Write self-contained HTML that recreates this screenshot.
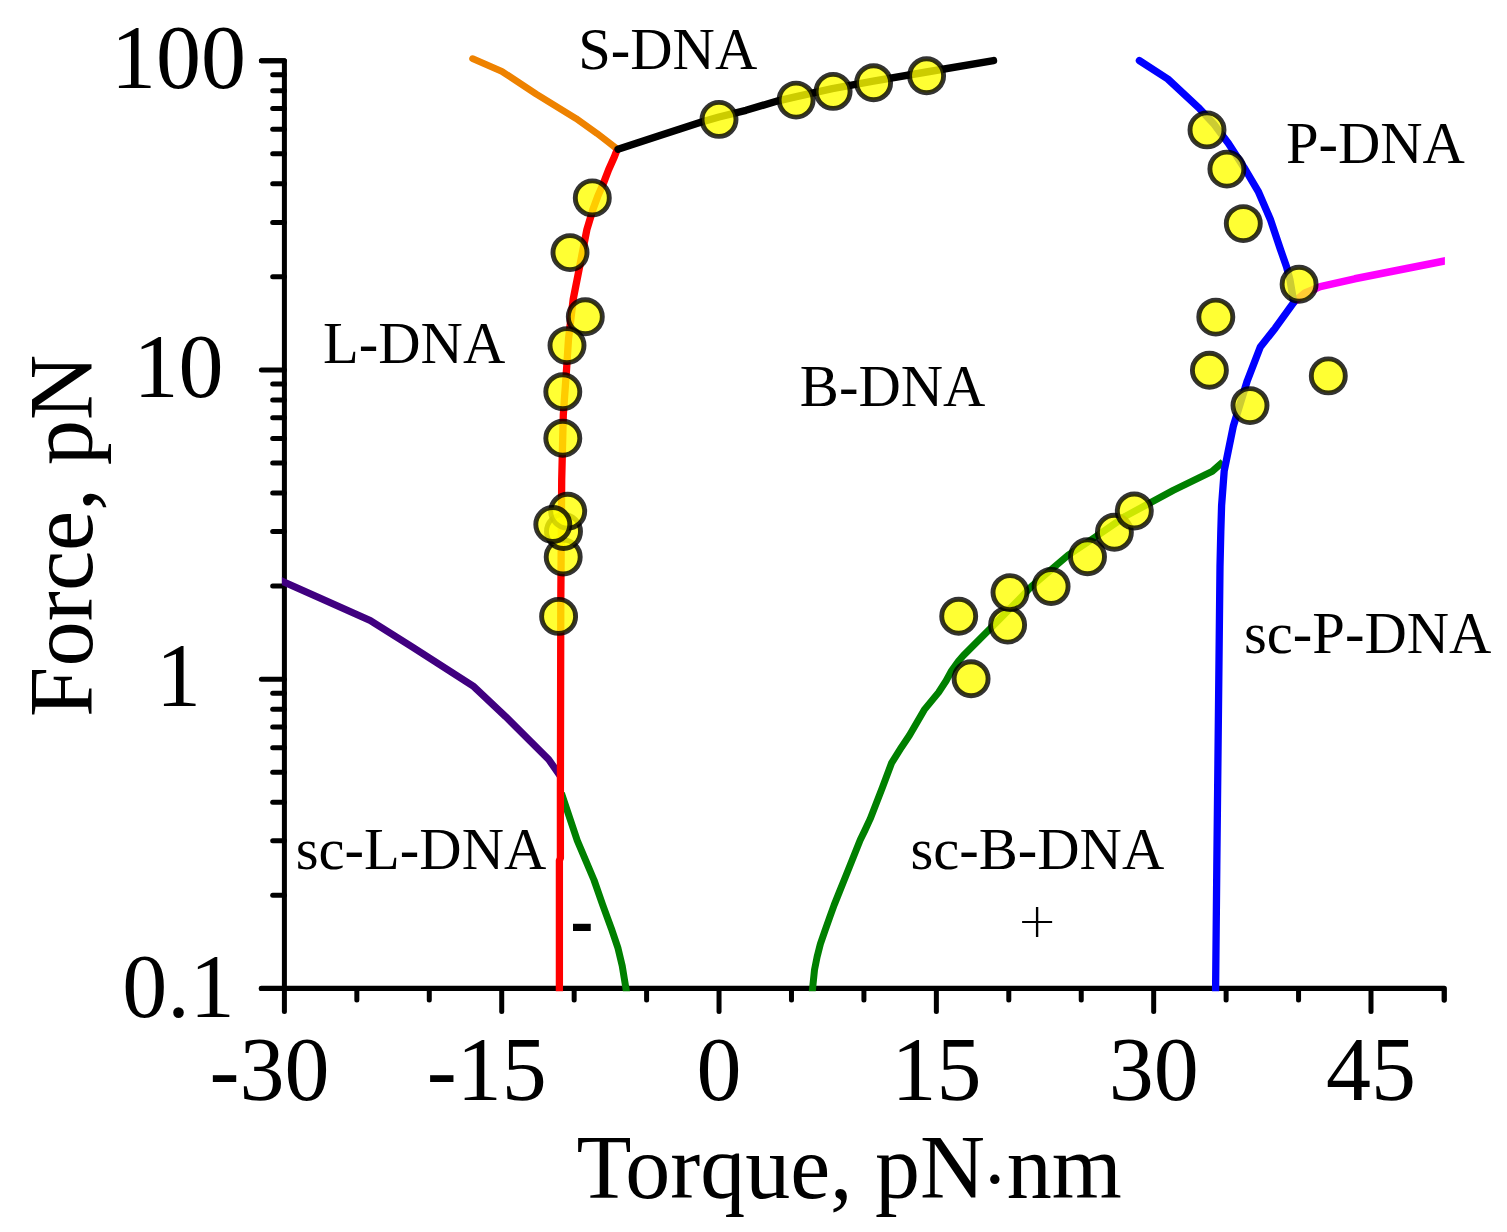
<!DOCTYPE html>
<html lang="en"><head><meta charset="utf-8"><title>DNA phase diagram</title>
<style>html,body{margin:0;padding:0;background:#fff;}body{width:1507px;height:1232px;overflow:hidden;}svg{display:block;}text{font-family:'Liberation Serif', serif;fill:#000;}</style></head><body>
<svg width="1507" height="1232" viewBox="0 0 1507 1232">
<rect width="1507" height="1232" fill="#fff"/>
<g stroke="#000" stroke-width="5.3" fill="none" stroke-linecap="butt">
<path d="M261.4 60.7 L284.4 60.7 L284.4 988.4" stroke-width="5" stroke-linejoin="round" stroke-linecap="round"/>
<path d="M261.4 988.4 L1444.24 988.4 L1444.24 1000.1" stroke-linejoin="round" stroke-linecap="round"/>
</g>
<g stroke="#000" stroke-width="5" fill="none" stroke-linecap="round">
<line x1="284.4" y1="988.40" x2="261.4" y2="988.40"/>
<line x1="284.4" y1="895.31" x2="272.7" y2="895.31"/>
<line x1="284.4" y1="840.86" x2="272.7" y2="840.86"/>
<line x1="284.4" y1="802.22" x2="272.7" y2="802.22"/>
<line x1="284.4" y1="772.26" x2="272.7" y2="772.26"/>
<line x1="284.4" y1="747.77" x2="272.7" y2="747.77"/>
<line x1="284.4" y1="727.07" x2="272.7" y2="727.07"/>
<line x1="284.4" y1="709.13" x2="272.7" y2="709.13"/>
<line x1="284.4" y1="693.32" x2="272.7" y2="693.32"/>
<line x1="284.4" y1="679.17" x2="261.4" y2="679.17"/>
<line x1="284.4" y1="586.08" x2="272.7" y2="586.08"/>
<line x1="284.4" y1="531.62" x2="272.7" y2="531.62"/>
<line x1="284.4" y1="492.99" x2="272.7" y2="492.99"/>
<line x1="284.4" y1="463.02" x2="272.7" y2="463.02"/>
<line x1="284.4" y1="438.54" x2="272.7" y2="438.54"/>
<line x1="284.4" y1="417.83" x2="272.7" y2="417.83"/>
<line x1="284.4" y1="399.90" x2="272.7" y2="399.90"/>
<line x1="284.4" y1="384.08" x2="272.7" y2="384.08"/>
<line x1="284.4" y1="369.93" x2="261.4" y2="369.93"/>
<line x1="284.4" y1="276.84" x2="272.7" y2="276.84"/>
<line x1="284.4" y1="222.39" x2="272.7" y2="222.39"/>
<line x1="284.4" y1="183.76" x2="272.7" y2="183.76"/>
<line x1="284.4" y1="153.79" x2="272.7" y2="153.79"/>
<line x1="284.4" y1="129.30" x2="272.7" y2="129.30"/>
<line x1="284.4" y1="108.60" x2="272.7" y2="108.60"/>
<line x1="284.4" y1="90.67" x2="272.7" y2="90.67"/>
<line x1="284.4" y1="74.85" x2="272.7" y2="74.85"/>
<line x1="284.4" y1="60.70" x2="261.4" y2="60.70"/>
<line x1="284.40" y1="988.4" x2="284.40" y2="1011.4"/>
<line x1="356.84" y1="988.4" x2="356.84" y2="1000.1"/>
<line x1="429.28" y1="988.4" x2="429.28" y2="1000.1"/>
<line x1="501.72" y1="988.4" x2="501.72" y2="1011.4"/>
<line x1="574.16" y1="988.4" x2="574.16" y2="1000.1"/>
<line x1="646.60" y1="988.4" x2="646.60" y2="1000.1"/>
<line x1="719.04" y1="988.4" x2="719.04" y2="1011.4"/>
<line x1="791.48" y1="988.4" x2="791.48" y2="1000.1"/>
<line x1="863.92" y1="988.4" x2="863.92" y2="1000.1"/>
<line x1="936.36" y1="988.4" x2="936.36" y2="1011.4"/>
<line x1="1008.80" y1="988.4" x2="1008.80" y2="1000.1"/>
<line x1="1081.24" y1="988.4" x2="1081.24" y2="1000.1"/>
<line x1="1153.68" y1="988.4" x2="1153.68" y2="1011.4"/>
<line x1="1226.12" y1="988.4" x2="1226.12" y2="1000.1"/>
<line x1="1298.56" y1="988.4" x2="1298.56" y2="1000.1"/>
<line x1="1371.00" y1="988.4" x2="1371.00" y2="1011.4"/>
</g>
<clipPath id="pc"><rect x="281.9" y="0" width="1163" height="991.2"/></clipPath>
<g fill="none" stroke-linejoin="round" stroke-linecap="butt" clip-path="url(#pc)">
<path d="M279.4 580.0 L284.4 582.3 L319.8 598.1 L370.2 620.5 L412.7 647.3 L473.8 686.6 L505.6 716.6 L548.7 759.5 L560.0 775.6" stroke="#400080" stroke-width="7.1" stroke-linecap="butt"/>
<path d="M472.6 58.7 L501.8 71.3 L536.3 94.2 L576.1 118.6 L597.0 133.4 L608.0 141.9 L616.8 148.7" stroke="#EE8200" stroke-width="6.8" stroke-linecap="round"/>
<path d="M561.4 793.2 L577.3 840.7 L594.0 880.0 L602.5 904.4 L611.4 928.7 L618.0 948.2 L622.2 965.7 L625.9 988.3 L627.1 996.0" stroke="#008000" stroke-width="7" stroke-linecap="butt"/>
<path d="M811.8 996.0 L812.6 988.3 L814.5 969.9 L817.1 956.9 L820.4 943.9 L824.9 930.9 L829.5 917.9 L834.2 904.9 L839.4 891.9 L844.6 879.0 L849.8 866.0 L855.0 853.0 L860.2 840.0 L865.0 830.1 L870.2 818.9 L882.6 787.1 L891.5 763.2 L901.5 747.2 L909.5 735.3 L924.2 709.9 L938.6 692.4 L946.0 681.0 L951.2 671.3 L958.2 661.6 L963.4 655.5 L991.1 627.8 L1020.7 597.7 L1031.5 586.3 L1068.2 555.2 L1094.4 537.6 L1125.8 516.0 L1173.2 490.4 L1212.2 471.4 L1223.0 461.8" stroke="#008000" stroke-width="7" stroke-linecap="butt"/>
<path d="M1293.0 302.8 L1305.0 293.0 L1320.3 286.6 L1354.8 278.8 L1444.5 261.0 L1450.0 259.9" stroke="#FF00FF" stroke-width="7.5" stroke-linecap="butt"/>
<path d="M1139.4 60.6 L1167.8 79.0 L1199.6 108.7 L1213.4 123.4 L1228.5 143.5 L1244.0 167.4 L1258.2 191.3 L1270.3 219.2 L1280.3 249.0 L1286.6 267.0 L1290.0 280.0 L1293.8 302.4 L1275.2 328.2 L1260.3 347.0 L1247.3 380.7 L1233.4 425.8 L1228.0 452.3 L1224.2 470.9 L1221.6 505.4 L1220.8 532.0 L1220.0 566.5 L1216.8 867.0 L1215.6 988.3 L1215.6 996.0" stroke="#0000FF" stroke-width="7.3" stroke-linecap="round"/>
<path d="M617.0 150.0 L614.3 157.0 L608.6 169.8 L603.5 183.1 L597.7 196.4 L592.9 209.6 L586.9 229.5 L584.3 242.8 L579.9 265.4 L573.2 299.3 L568.5 339.1 L566.6 368.5 L563.3 415.0 L561.7 480.0 L560.8 600.0 L560.4 790.0 L560.4 858.0 L559.4 860.5 L559.4 988.3 L559.4 996.0" stroke="#FF0000" stroke-width="7.3" stroke-linecap="butt"/>
<path d="M618.0 149.2 L658.4 136.0 L700.7 122.2 L719.0 117.0 L746.0 110.3 L778.1 100.8 L796.4 96.6 L832.3 88.7 L873.3 81.2 L926.5 72.0 L993.5 60.6" stroke="#000000" stroke-width="7.4" stroke-linecap="round"/>
</g>
<g fill="#FFFF00" fill-opacity="0.8" stroke="#000" stroke-opacity="0.8" stroke-width="4.9">
<circle cx="719.0" cy="119.4" r="17"/>
<circle cx="796.1" cy="100.1" r="17"/>
<circle cx="833.1" cy="91.4" r="17"/>
<circle cx="873.6" cy="82.8" r="17"/>
<circle cx="926.6" cy="75.7" r="17"/>
<circle cx="592.3" cy="197.9" r="17"/>
<circle cx="570.0" cy="252.6" r="17"/>
<circle cx="585.3" cy="316.7" r="17"/>
<circle cx="567.0" cy="345.6" r="17"/>
<circle cx="562.8" cy="391.8" r="17"/>
<circle cx="562.8" cy="438.3" r="17"/>
<circle cx="558.6" cy="616.4" r="17"/>
<circle cx="563.2" cy="557.0" r="17"/>
<circle cx="563.5" cy="531.5" r="17"/>
<circle cx="567.7" cy="511.3" r="17"/>
<circle cx="552.8" cy="524.5" r="17"/>
<circle cx="1207.0" cy="129.9" r="17"/>
<circle cx="1226.9" cy="169.1" r="17"/>
<circle cx="1243.3" cy="223.6" r="17"/>
<circle cx="1299.1" cy="284.2" r="17"/>
<circle cx="1215.8" cy="317.1" r="17"/>
<circle cx="1209.4" cy="370.3" r="17"/>
<circle cx="1328.3" cy="375.9" r="17"/>
<circle cx="1250.0" cy="405.6" r="17"/>
<circle cx="971.1" cy="678.7" r="17"/>
<circle cx="958.7" cy="616.2" r="17"/>
<circle cx="1007.6" cy="625.1" r="17"/>
<circle cx="1010.0" cy="592.6" r="17"/>
<circle cx="1051.1" cy="586.5" r="17"/>
<circle cx="1087.5" cy="556.8" r="17"/>
<circle cx="1114.4" cy="532.3" r="17"/>
<circle cx="1134.3" cy="511.0" r="17"/>
</g>
<g font-size="90" text-anchor="middle">
<text x="178.5" y="87.5">100</text>
<text x="178.5" y="396.7">10</text>
<text x="178.5" y="706.0">1</text>
<text x="178.5" y="1017.1">0.1</text>
<text x="269.4" y="1100.2">-30</text>
<text x="486.7" y="1100.2">-15</text>
<text x="719.0" y="1100.2">0</text>
<text x="936.4" y="1100.2">15</text>
<text x="1153.7" y="1100.2">30</text>
<text x="1371.0" y="1100.2">45</text>
<text x="576.5" y="1197.5" text-anchor="start">Torque, pN<tspan dx="-3.5" dy="8" font-size="80">·</tspan><tspan dx="-1.5" dy="-8">nm</tspan></text>
<text transform="translate(92.1 535.8) rotate(-90)" x="0" y="0" font-size="90.6">Force, pN</text>
</g>
<g font-size="58.6">
<text x="578.2" y="68.7">S-DNA</text>
<text x="323" y="363.1">L-DNA</text>
<text x="799.8" y="405.5">B-DNA</text>
<text x="1285.9" y="163.3">P-DNA</text>
<text x="1244" y="652.8">sc-P-DNA</text>
<text x="295.7" y="868.7">sc-L-DNA</text>
<text x="910.4" y="868.8">sc-B-DNA</text>
</g>
<text transform="translate(581.95 947.092) scale(0.95 1.17)" x="0" y="0" font-size="72" font-weight="bold" text-anchor="middle">-</text>
<text x="1037.2" y="937.2" font-size="48" text-anchor="middle" style="font-family:'DejaVu Sans',sans-serif;font-weight:200">+</text>
</svg></body></html>
